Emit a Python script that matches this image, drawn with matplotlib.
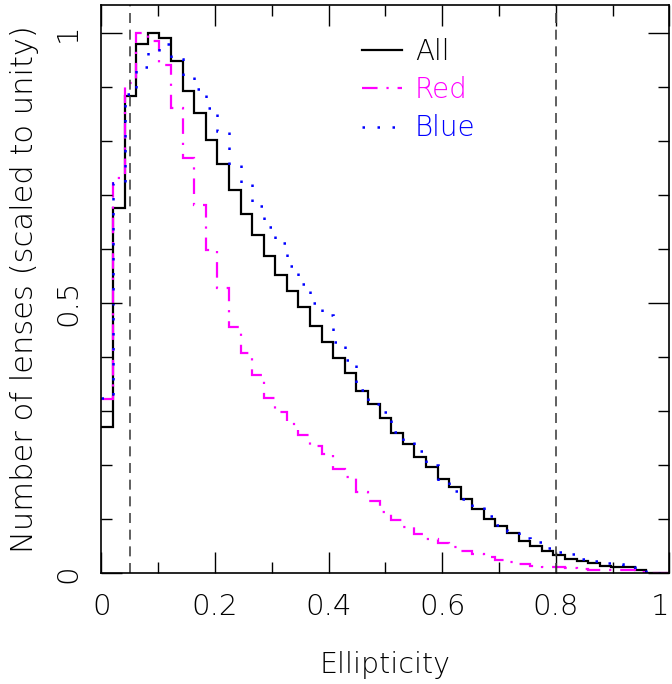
import numpy as np
import matplotlib.pyplot as plt

# 49 equal bins on [0, 1]
edges = np.linspace(0, 1, 50)

all_counts = [0.27, 0.676, 0.883, 0.98, 1.0, 0.99, 0.949, 0.892, 0.852, 0.802,
              0.757, 0.709, 0.665, 0.627, 0.588, 0.552, 0.523, 0.492, 0.457, 0.428,
              0.399, 0.371, 0.338, 0.313, 0.287, 0.26, 0.24, 0.215, 0.197, 0.175,
              0.159, 0.138, 0.118, 0.101, 0.088, 0.074, 0.060, 0.051, 0.042, 0.033,
              0.026, 0.023, 0.018, 0.014, 0.012, 0.011, 0.006, 0.0, 0.0]

red_counts = [0.322, 0.731, 0.907, 1.0, 0.985, 0.94, 0.862, 0.768, 0.681, 0.599,
              0.528, 0.455, 0.407, 0.366, 0.324, 0.299, 0.276, 0.256, 0.236, 0.22,
              0.193, 0.178, 0.151, 0.134, 0.114, 0.099, 0.085, 0.073, 0.064, 0.055,
              0.048, 0.042, 0.036, 0.030, 0.025, 0.021, 0.017, 0.014, 0.012, 0.011,
              0.009, 0.008, 0.006, 0.006, 0.005, 0.005, 0.002, 0.0, 0.0]

blue_counts = [0.325, 0.722, 0.888, 0.937, 0.965, 0.979, 0.952, 0.918, 0.896, 0.862,
               0.818, 0.756, 0.72, 0.68, 0.641, 0.611, 0.569, 0.536, 0.501, 0.478,
               0.428, 0.395, 0.339, 0.313, 0.298, 0.262, 0.244, 0.226, 0.20, 0.168,
               0.152, 0.138, 0.122, 0.105, 0.09, 0.078, 0.065, 0.058, 0.047, 0.04,
               0.035, 0.027, 0.023, 0.019, 0.017, 0.014, 0.006, 0.0, 0.0]

cuts = [0.05, 0.8]

plt.rcParams['font.family'] = ['DejaVu Sans']
plt.rcParams['font.weight'] = 200
plt.rcParams['axes.labelweight'] = 200
FS = 21

fig = plt.figure(figsize=(6.72, 6.84), dpi=100)
ax = fig.add_axes([0.151, 0.162, 0.845, 0.830])

for c in cuts:
    ax.axvline(c, color='#444444', lw=1.2, ls=(0, (6, 4)))

ax.stairs(all_counts, edges, baseline=None, color='black', lw=1.6, label='All')
ax.stairs(red_counts, edges, baseline=None, color='#ff00ff', lw=1.6,
          ls=(0, (7, 4, 1, 4)), label='Red')
ax.stairs(blue_counts, edges, baseline=None, color='#0000ff', lw=1.8,
          ls=(0, (1, 5)), label='Blue')

ax.set_xlim(0, 1)
ax.set_ylim(0, 1.051)

ax.set_xticks(np.arange(0, 1.01, 0.2))
ax.set_xticks(np.arange(0.1, 1.0, 0.2), minor=True)
ax.set_xticklabels(['0', '0.2', '0.4', '0.6', '0.8', '1'])
ax.set_yticks([0, 0.5, 1])
ax.set_yticks(np.arange(0, 1.05, 0.1), minor=True)
ax.set_yticklabels(['0', '0.5', '1'], rotation=90, va='center')

ax.tick_params(which='both', direction='in', top=True, right=True, labelsize=FS, width=1)
ax.tick_params(which='major', length=15, pad=14)
ax.tick_params(which='minor', length=8)
ax.get_xticklabels()[-1].set_horizontalalignment('right')
for s in ax.spines.values():
    s.set_linewidth(1.2)

ax.set_xlabel('Ellipticity', fontsize=20.5, labelpad=22)
ax.set_ylabel('Number of lenses (scaled to unity)', fontsize=22, labelpad=11)

leg = ax.legend(loc='upper left', bbox_to_anchor=(0.415, 0.987), frameon=False,
                fontsize=20, handlelength=1.45, handletextpad=0.45,
                labelspacing=0.37, labelcolor=['black', '#ff00ff', '#0000ff'])

fig.savefig('out.png', dpi=100)
